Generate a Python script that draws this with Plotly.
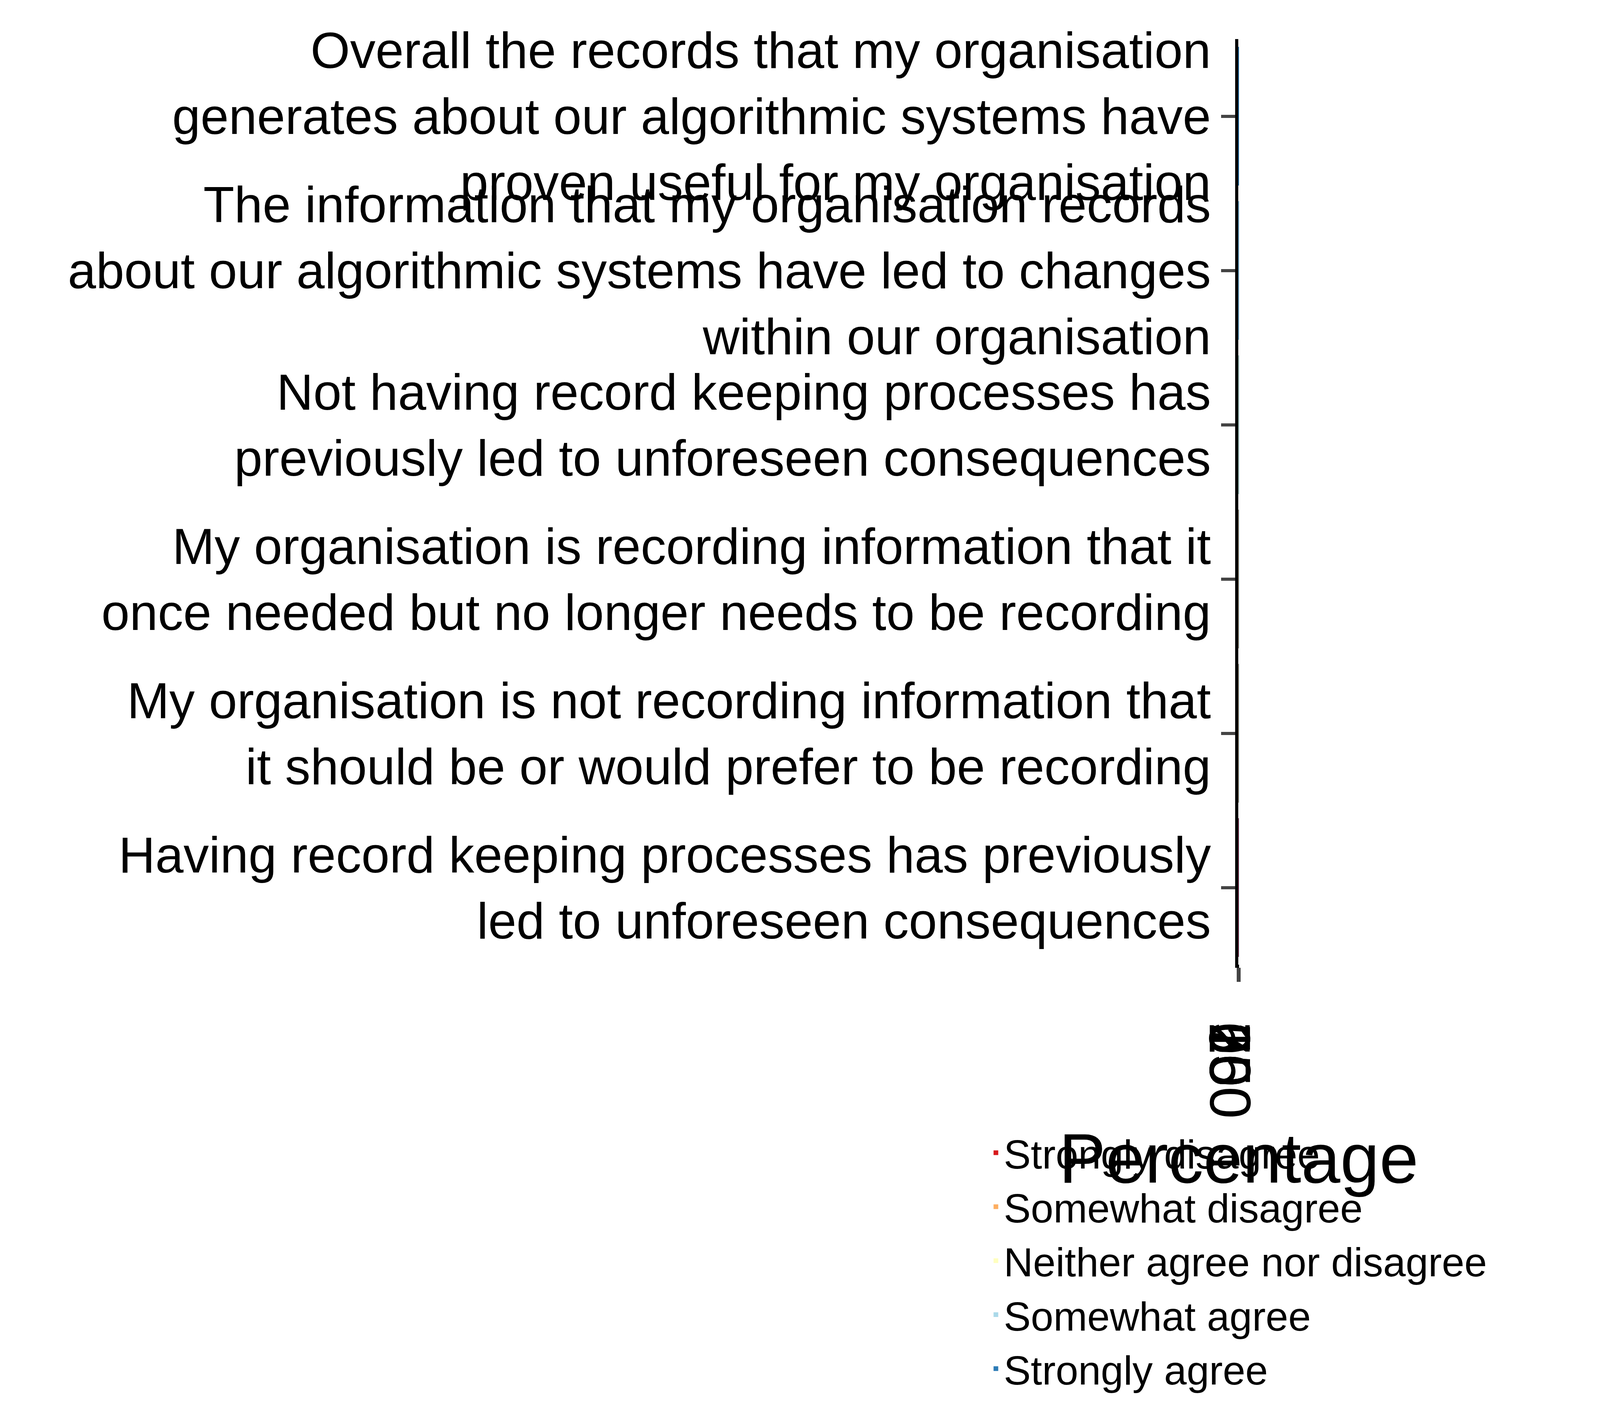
import plotly.graph_objects as go

statements = [
    "Having record keeping processes has previously<br>led to unforeseen consequences",
    "My organisation is not recording information that<br>it should be or would prefer to be recording",
    "My organisation is recording information that it<br>once needed but no longer needs to be recording",
    "Not having record keeping processes has<br>previously led to unforeseen consequences",
    "The information that my organisation records<br>about our algorithmic systems have led to changes<br>within our organisation",
    "Overall the records that my organisation<br>generates about our algorithmic systems have<br>proven useful for my organisation",
]
levels = ["Strongly disagree", "Somewhat disagree", "Neither agree nor disagree",
          "Somewhat agree", "Strongly agree"]
colors = ["#d7191c", "#fdae61", "#ffffbf", "#abd9e9", "#2c7bb6"]

strongly_disagree = [48, 46, 39.3, 19, 8, 0]
somewhat_disagree = [16, 14, 22.7, 5, 6, 2]
neither = [23, 25, 19, 30, 28, 5]
somewhat_agree = [9, 8, 9.5, 29, 34, 33]
strongly_agree = [4, 7, 9.5, 17, 24, 60]
series = [strongly_disagree, somewhat_disagree, neither, somewhat_agree, strongly_agree]

fig = go.Figure()
for name, vals, col in zip(levels, series, colors):
    fig.add_trace(go.Bar(y=statements, x=vals, name=name, orientation="h",
                         marker=dict(color=col, line=dict(width=0))))

font = "Liberation Sans, Arial, sans-serif"
fig.update_layout(
    barmode="stack", bargap=0.1,
    autosize=True,
    plot_bgcolor="white", paper_bgcolor="white",
    font=dict(family=font, color="black"),
    margin=dict(l=4310, r=194, t=92, b=1002),
    xaxis=dict(range=[-10.5, 105], tickvals=[0, 25, 50, 75, 100],
               showgrid=False, zeroline=False, showline=True, linecolor="black",
               linewidth=8, ticks="outside", ticklen=36, tickwidth=8,
               tickfont=dict(size=148),
               title=dict(text="Percentage", font=dict(size=180), standoff=40)),
    yaxis=dict(showgrid=False, zeroline=False, showline=True, linecolor="black",
               linewidth=8, ticks="outside", ticklen=36, tickwidth=8,
               tickfont=dict(size=130), automargin=False),
    legend=dict(orientation="h", x=0.5, xanchor="center", y=-0.32, yanchor="middle",
                font=dict(size=104), itemsizing="constant", traceorder="normal"),
)
fig.write_html("out.html", default_width="100%", default_height="100%")
